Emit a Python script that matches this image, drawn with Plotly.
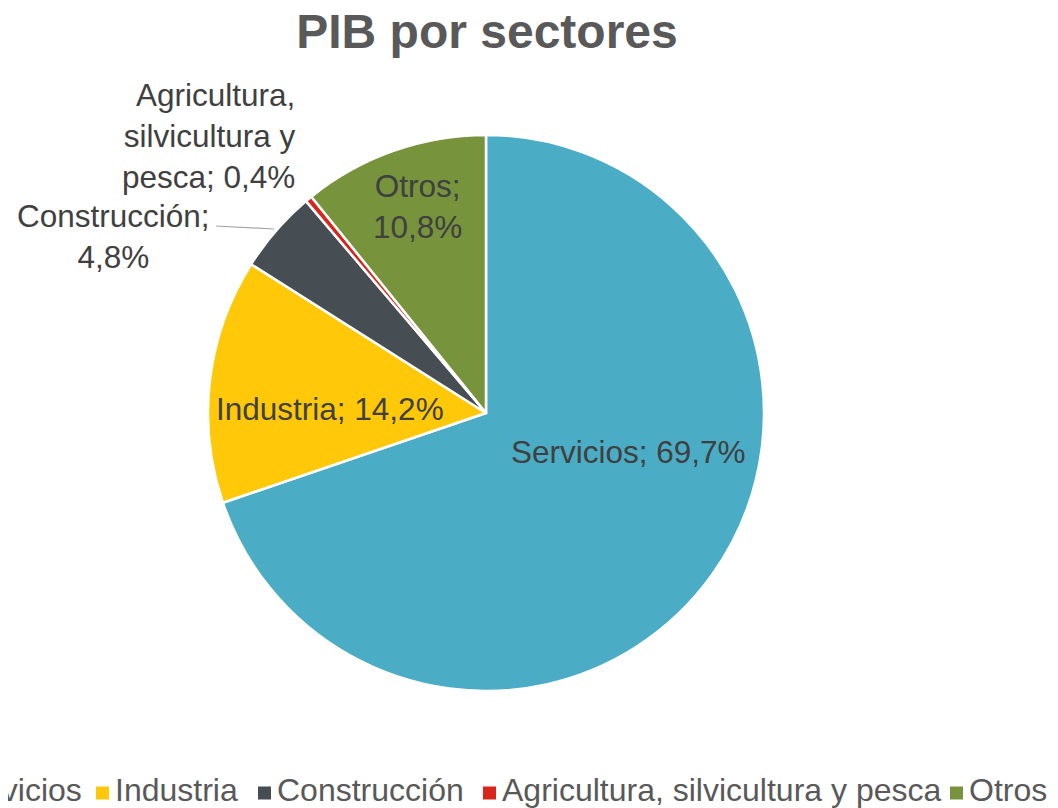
import plotly.graph_objects as go

# ---- data ----
labels = ["Servicios", "Industria", "Construcción", "Agricultura, silvicultura y pesca", "Otros"]
values = [69.7, 14.2, 4.8, 0.4, 10.8]
colors = ["#4BACC6", "#FFC90A", "#464D53", "#D9261C", "#77933C"]
label_texts = [
    "Servicios; 69,7%",
    "Industria; 14,2%",
    "Construcción;<br>4,8%",
    "Agricultura,<br>silvicultura y<br>pesca; 0,4%",
    "Otros;<br>10,8%",
]
title_text = "PIB por sectores"

W, H = 1058, 808
OFF = 8  # page body margin
FONT = "Liberation Sans, Arial, sans-serif"

def px(x):
    return (x - OFF) / W

def py(y):
    return 1 - (y - OFF) / H

fig = go.Figure()
fig.add_trace(go.Pie(
    labels=labels,
    values=values,
    sort=False,
    direction="clockwise",
    rotation=0,
    marker=dict(colors=colors, line=dict(color="white", width=2.5)),
    textinfo="none",
    hoverinfo="label+percent",
    showlegend=False,
    domain=dict(x=[px(208), px(764)], y=[py(691), py(135)]),
))

# data-label placement (layout, page pixel coords of text centres)
label_layout = [
    dict(x=628, y=452, align="center", xanchor="center"),
    dict(x=330, y=409, align="center", xanchor="center"),
    dict(x=113, y=236, align="center", xanchor="center"),
    dict(x=298, y=136, align="right", xanchor="right"),
    dict(x=417, y=206, align="center", xanchor="center"),
]
annotations = []
for txt, lay in zip(label_texts, label_layout):
    annotations.append(dict(
        text=txt, x=px(lay["x"]), y=py(lay["y"]), xref="paper", yref="paper",
        xanchor=lay["xanchor"], yanchor="middle", align=lay["align"],
        showarrow=False, font=dict(family=FONT, size=31.5, color="#404040"),
    ))

# legend row (layout: left edge of each entry's text, page pixels)
legend_text_x = [-48, 115, 277, 502, 969]
legend_y = 790
shapes = [dict(type="line", xref="paper", yref="paper",
               x0=px(216), y0=py(226), x1=px(274), y1=py(229),
               line=dict(color="#A6A6A6", width=1.2))]
for lab, col, tx in zip(labels, colors, legend_text_x):
    annotations.append(dict(
        text=lab, x=px(tx - 2), y=py(legend_y), xref="paper", yref="paper",
        xanchor="left", yanchor="middle", showarrow=False,
        font=dict(family=FONT, size=32, color="#595959"),
    ))
    shapes.append(dict(type="rect", xref="paper", yref="paper",
                       x0=px(tx - 19), x1=px(tx - 6), y0=py(799.5), y1=py(786.5),
                       fillcolor=col, line=dict(width=0)))

fig.update_layout(
    width=W, height=H,
    margin=dict(l=0, r=0, t=0, b=0),
    paper_bgcolor="white",
    plot_bgcolor="white",
    title=dict(text=f"<b>{title_text}</b>", x=px(487), xanchor="center",
               y=py(31), yanchor="middle", yref="container", xref="paper",
               font=dict(family=FONT, size=48, color="#595959")),
    annotations=annotations,
    shapes=shapes,
)

fig.write_html("out.html")
